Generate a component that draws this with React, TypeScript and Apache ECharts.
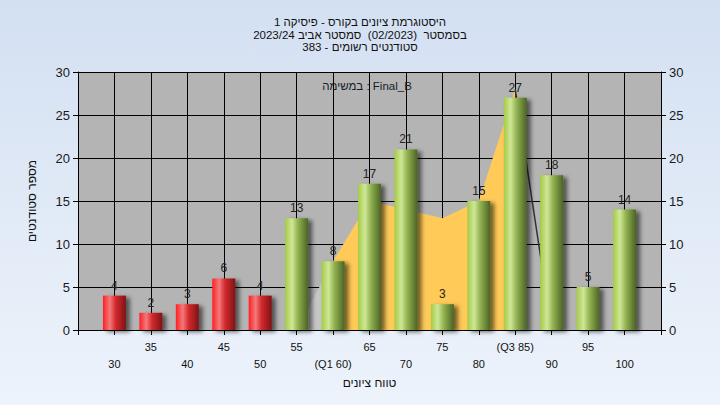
import React, { useEffect, useRef } from "react";
import * as echarts from "echarts";

const titleLines = [
  "היסטוגרמת ציונים בקורס - פיסיקה 1",
  "בסמסטר  (02/2023)  סמסטר אביב 2023/24",
  "סטודנטים רשומים - 383",
];
const innerNote = "במשימה : Final_B";
const xAxisName = "טווח ציונים";
const yAxisName = "מספר סטודנטים";

// category slots (one empty slot at each end)
const slots = [25, 30, 35, 40, 45, 50, 55, 60, 65, 70, 75, 80, 85, 90, 95, 100, 105];
const slotLabels = ["", "30", "35", "40", "45", "50", "55", "(Q1 60)", "65", "70", "75", "80", "(Q3 85)", "90", "95", "100", ""];

const bins = [30, 35, 40, 45, 50, 55, 60, 65, 70, 75, 80, 85, 90, 95, 100];
const counts = [4, 2, 3, 6, 4, 13, 8, 17, 21, 3, 15, 27, 18, 5, 14];
const passMark = 55;

const iqrBins = [60, 65, 70, 75, 80, 85];
const iqrValues = [8, 15, 14, 13, 15, 28];
const wedgeBins = [55, 60];
const wedgeValues = [0, 8];
const tailBins = [85, 90];
const tailValues = [28, 0];

const yTicks = { min: 0, max: 30, interval: 5 };

function toSlots(b: number[], v: number[]) {
  return slots.map((s) => {
    const i = b.indexOf(s);
    return i >= 0 ? v[i] : null;
  });
}

const redGrad = () =>
  new echarts.graphic.LinearGradient(0, 0, 1, 0, [
    { offset: 0, color: "#ff1e24" },
    { offset: 0.3, color: "#f37a7a" },
    { offset: 0.55, color: "#d42a2e" },
    { offset: 1, color: "#7e1414" },
  ]);
const greenGrad = () =>
  new echarts.graphic.LinearGradient(0, 0, 1, 0, [
    { offset: 0, color: "#a4cb45" },
    { offset: 0.3, color: "#cfe797" },
    { offset: 0.55, color: "#93b452" },
    { offset: 1, color: "#4b6324" },
  ]);

export default function App() {
  const ref = useRef<HTMLDivElement>(null);
  useEffect(() => {
    if (!ref.current) return;
    const chart = echarts.init(ref.current, undefined, { renderer: "svg" });
    const font = "'Liberation Sans', Arial, sans-serif";
    const barData = slots.map((s) => {
      const i = bins.indexOf(s);
      if (i < 0) return null;
      return {
        value: counts[i],
        itemStyle: { color: s < passMark ? redGrad() : greenGrad() },
      };
    });
    const yAxisBase = {
      type: "value",
      min: yTicks.min,
      max: yTicks.max,
      interval: yTicks.interval,
      axisLine: { show: true, lineStyle: { color: "#000", width: 1 } },
      axisTick: { show: true, length: 5, lineStyle: { color: "#000" } },
      axisLabel: { fontSize: 13, color: "#1a1a1a", fontFamily: font, margin: 8 },
    };
    chart.setOption({
      animation: false,
      backgroundColor: new echarts.graphic.LinearGradient(0, 0, 0, 1, [
        { offset: 0, color: "#d3e0f2" },
        { offset: 1, color: "#edf3fb" },
      ]),
      textStyle: { fontFamily: font },
      title: {
        text: titleLines.join("\n"),
        left: "center",
        top: 11,
        textStyle: { fontSize: 11.5, fontWeight: "normal", color: "#111", lineHeight: 12.5, fontFamily: font },
      },
      grid: {
        left: 78,
        right: 59,
        top: 72,
        bottom: 75,
        show: true,
        backgroundColor: "#b4b4b4",
        borderWidth: 0,
      },
      graphic: [
        {
          type: "text",
          x: 367,
          y: 86,
          style: {
            text: innerNote,
            align: "center",
            verticalAlign: "middle",
            fontSize: 11.5,
            fill: "#1a1a2a",
            fontFamily: font,
          },
          z: 10,
        },
      ],
      xAxis: {
        type: "category",
        data: slots.map(String),
        boundaryGap: false,
        name: xAxisName,
        nameLocation: "middle",
        nameGap: 42,
        nameTextStyle: { fontSize: 12, color: "#111", fontFamily: font },
        axisLine: { show: true, lineStyle: { color: "#000", width: 1 } },
        axisTick: { show: true, interval: 0, length: 5, lineStyle: { color: "#000" } },
        splitLine: { show: true, interval: 0, lineStyle: { color: "#000", width: 1 } },
        axisLabel: {
          interval: 0,
          fontSize: 11,
          lineHeight: 17,
          margin: 8,
          color: "#111",
          fontFamily: font,
          formatter: (_v: string, idx: number) => {
            const t = slotLabels[idx];
            if (!t) return "";
            return idx % 2 === 1 ? "\n" + t : t + "\n";
          },
        },
      },
      yAxis: [
        {
          ...yAxisBase,
          position: "left",
          name: yAxisName,
          nameLocation: "middle",
          nameRotate: 90,
          nameGap: 40,
          nameTextStyle: { fontSize: 12, color: "#111", fontFamily: font },
          splitLine: { show: true, lineStyle: { color: "#000", width: 1 } },
        },
        {
          ...yAxisBase,
          position: "right",
          splitLine: { show: false },
        },
      ],
      series: [
        {
          type: "line",
          data: toSlots(wedgeBins, wedgeValues),
          showSymbol: false,
          lineStyle: { width: 0 },
          areaStyle: { color: "#c6c6c6", opacity: 1 },
          z: 1,
          silent: true,
        },
        {
          type: "line",
          data: toSlots(iqrBins, iqrValues),
          showSymbol: false,
          lineStyle: { width: 0 },
          areaStyle: { color: "#ffca58", opacity: 1 },
          z: 1,
          silent: true,
        },
        {
          type: "line",
          data: toSlots(tailBins, tailValues),
          showSymbol: false,
          lineStyle: { width: 1.5, color: "#333" },
          z: 1,
          silent: true,
        },
        {
          type: "bar",
          data: barData,
          barWidth: 23,
          z: 3,
          itemStyle: {
            shadowColor: "rgba(0,0,0,0.55)",
            shadowBlur: 4,
            shadowOffsetX: 4,
            shadowOffsetY: 2,
          },
          label: {
            show: true,
            position: "top",
            distance: 4,
            fontSize: 12,
            color: "#222",
            fontFamily: font,
          },
        },
      ],
    });
    return () => chart.dispose();
  }, []);
  return (
    <div
      ref={ref}
      style={{ position: "fixed", left: 0, top: 0, width: 720, height: 405 }}
    />
  );
}
